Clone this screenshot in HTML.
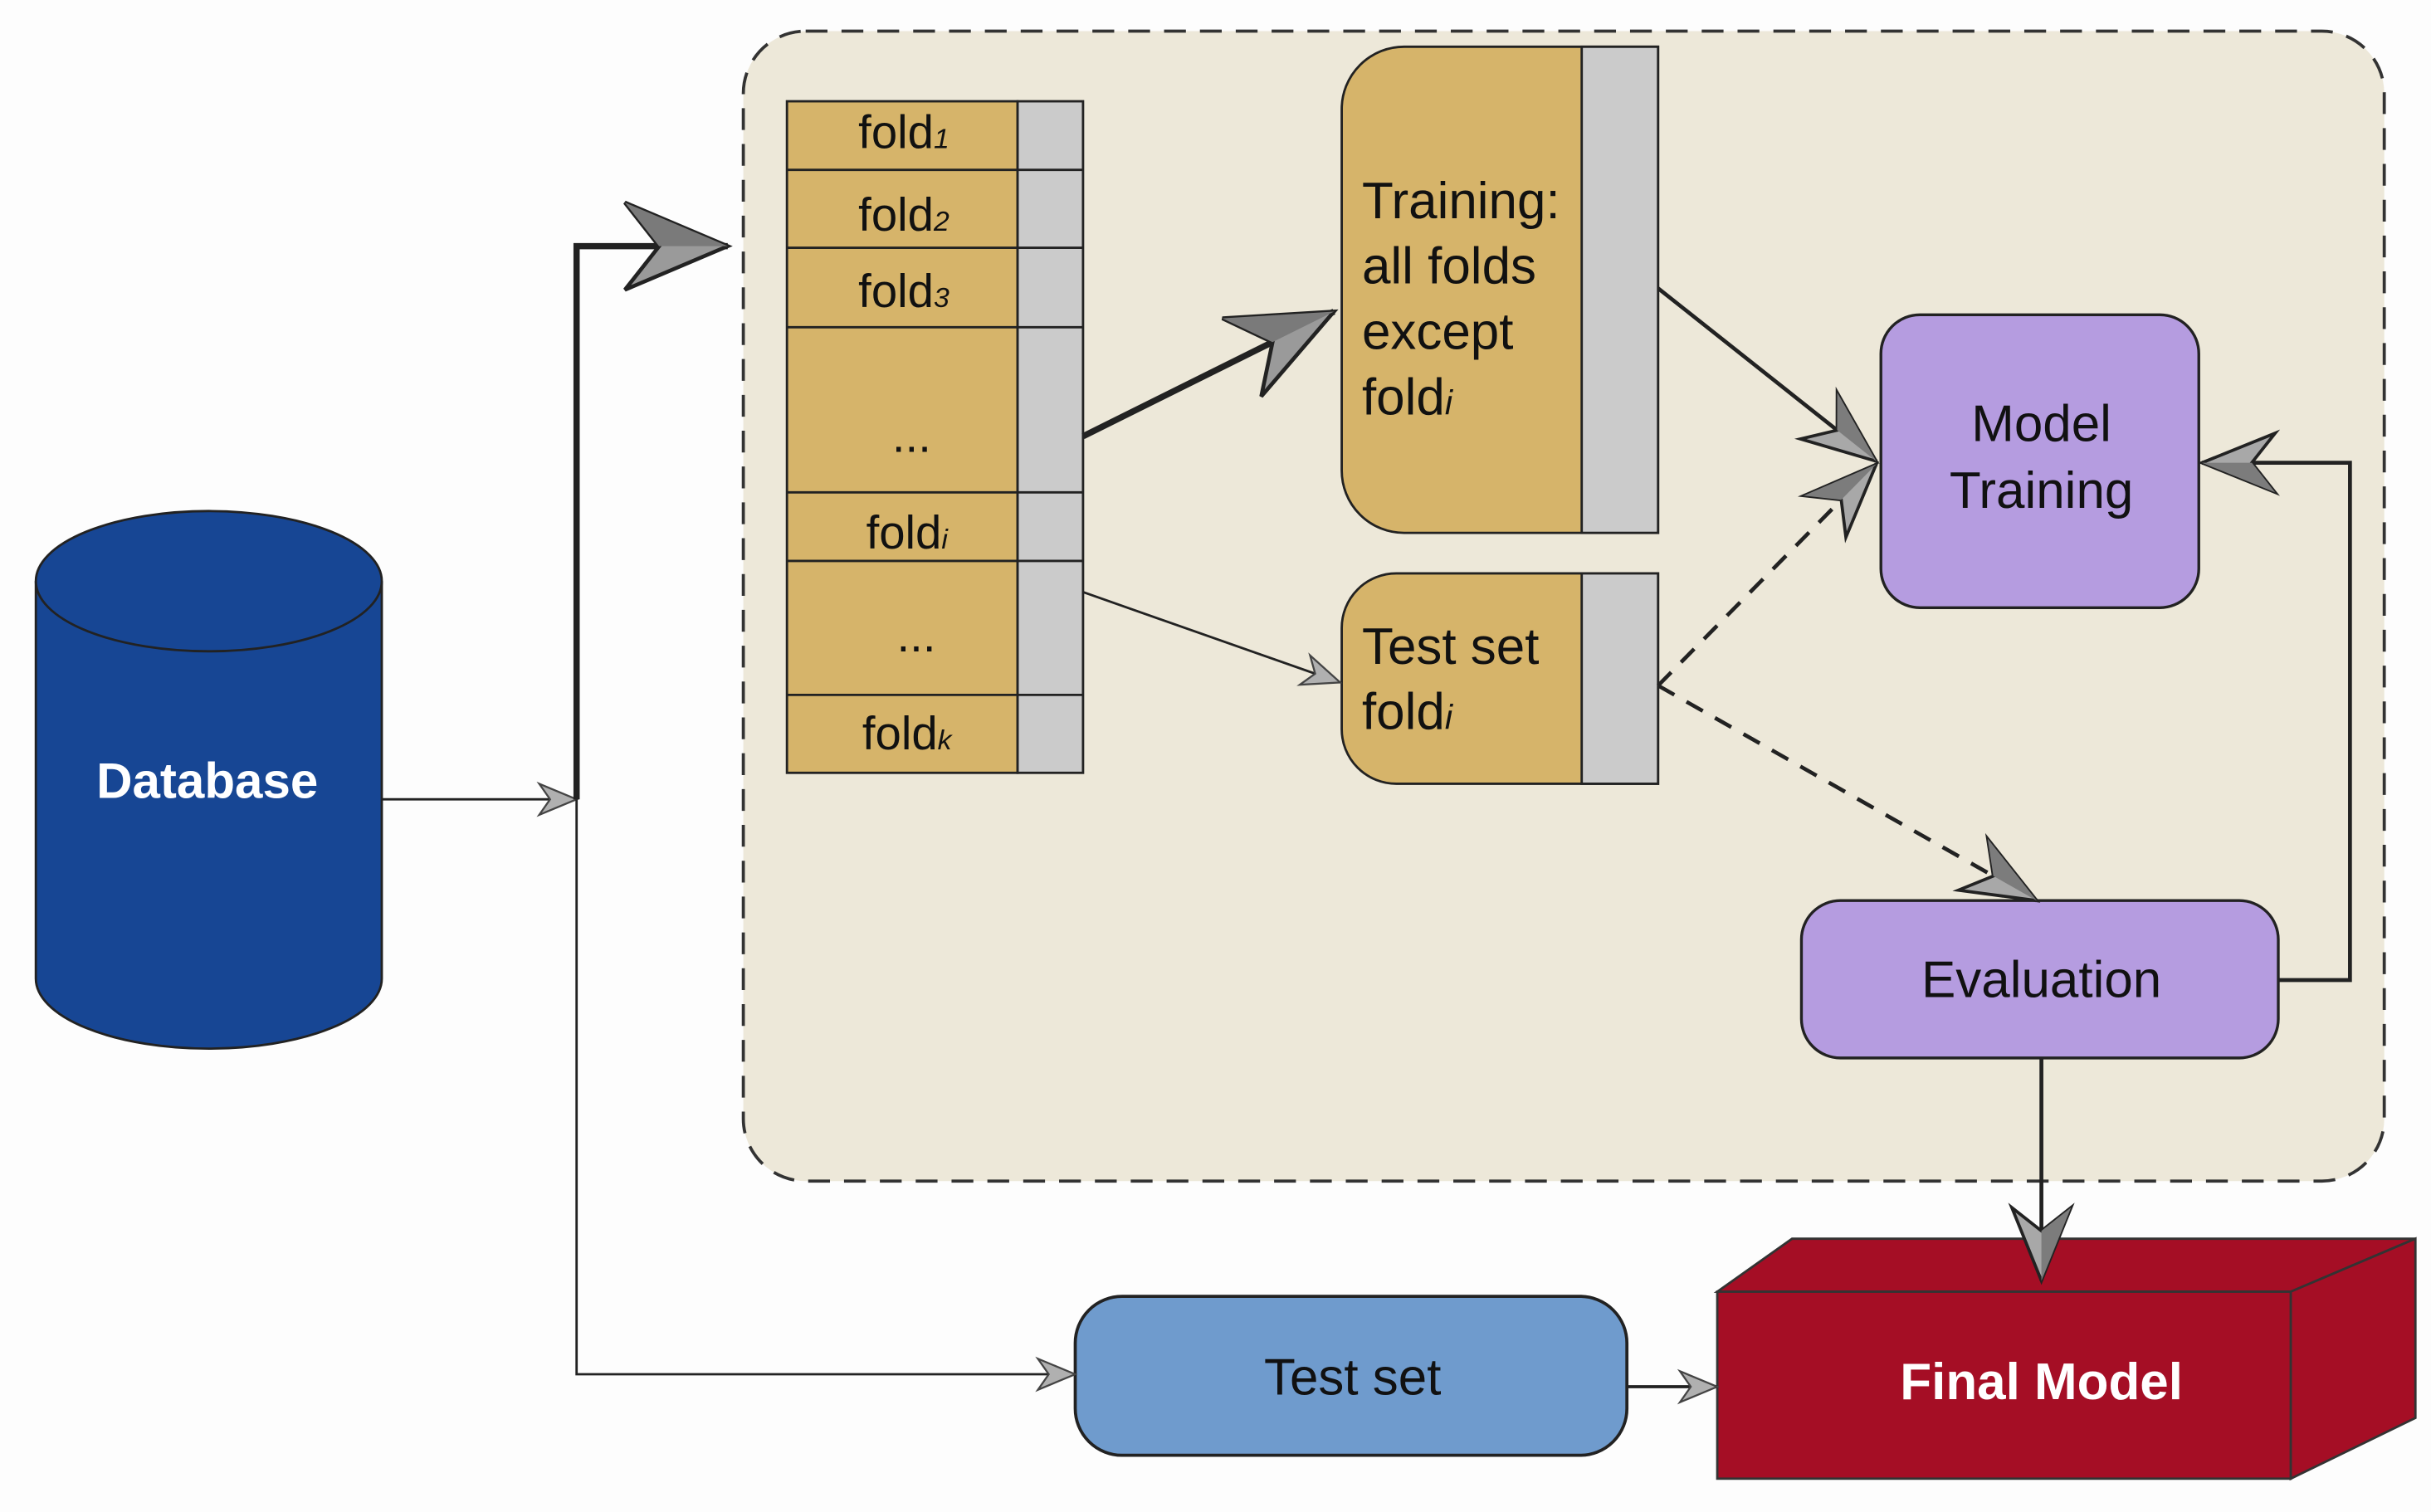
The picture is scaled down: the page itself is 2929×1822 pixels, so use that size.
<!DOCTYPE html>
<html><head><meta charset="utf-8"><style>
html,body{margin:0;padding:0;background:#fdfdfd;}
svg{display:block;}
text{font-family:"Liberation Sans",Arial,sans-serif;}
</style></head><body>
<svg width="2929" height="1822" viewBox="0 0 1560 970.4" preserveAspectRatio="none" xmlns="http://www.w3.org/2000/svg">
<defs>
<marker id="big" markerUnits="userSpaceOnUse" markerWidth="80" markerHeight="70" refX="70" refY="32" orient="auto" viewBox="0 0 80 70">
<path d="M70,32 L4,4 L26,32 L4,60 Z" fill="#9a9a9a" stroke="#222" stroke-width="2.5"/>
<path d="M70,32 L4,4 L26,32 Z" fill="#7a7a7a"/>
</marker>
<marker id="med" markerUnits="userSpaceOnUse" markerWidth="60" markerHeight="50" refX="50" refY="22" orient="auto" viewBox="0 0 60 50">
<path d="M50,22 L3,3 L18,22 L3,41 Z" fill="#a8a8a8" stroke="#222" stroke-width="2"/>
<path d="M50,22 L3,3 L18,22 Z" fill="#7c7c7c"/>
</marker>
<marker id="sm" markerUnits="userSpaceOnUse" markerWidth="30" markerHeight="26" refX="26" refY="12" orient="auto" viewBox="0 0 30 26">
<path d="M26,12 L2,2 L9,12 L2,22 Z" fill="#b0b0b0" stroke="#444" stroke-width="1.2"/>
</marker>
</defs>
<rect x="0" y="0" width="1560" height="971" fill="#fdfdfd"/>
<!-- container -->
<rect x="477" y="20" width="1053" height="738" rx="40" fill="#ede8d9" stroke="#333" stroke-width="2" stroke-dasharray="14,9"/>
<!-- database -->
<path d="M23,373 L23,628 A111,45 0 0 0 245,628 L245,373" fill="#174694" stroke="#222" stroke-width="1.5"/>
<ellipse cx="134" cy="373" rx="111" ry="45" fill="#174694" stroke="#222" stroke-width="1.5"/>
<text x="133" y="512" font-size="32" font-weight="bold" fill="#fff" text-anchor="middle">Database</text>
<!-- folds -->
<g stroke="#222" stroke-width="1.5">
<rect x="505" y="65" width="148" height="431" fill="#d6b46a"/>
<rect x="653" y="65" width="42" height="431" fill="#cbcbcb"/>
<line x1="505" y1="109" x2="695" y2="109"/>
<line x1="505" y1="159" x2="695" y2="159"/>
<line x1="505" y1="210" x2="695" y2="210"/>
<line x1="505" y1="316" x2="695" y2="316"/>
<line x1="505" y1="360" x2="695" y2="360"/>
<line x1="505" y1="446" x2="695" y2="446"/>
</g>
<g font-size="30" fill="#111" text-anchor="middle">
<text x="580" y="95">fold<tspan font-size="18" font-style="italic">1</tspan></text>
<text x="580" y="148">fold<tspan font-size="18" font-style="italic">2</tspan></text>
<text x="580" y="197">fold<tspan font-size="18" font-style="italic">3</tspan></text>
<text x="585" y="290">...</text>
<text x="582" y="352">fold<tspan font-size="18" font-style="italic">i</tspan></text>
<text x="588" y="418">...</text>
<text x="582" y="481">fold<tspan font-size="18" font-style="italic">k</tspan></text>
</g>
<!-- training box -->
<path d="M901,30 L1064,30 L1064,342 L901,342 A40,40 0 0 1 861,302 L861,70 A40,40 0 0 1 901,30 Z" fill="#d6b46a" stroke="#222" stroke-width="1.5"/>
<rect x="1015" y="30" width="49" height="312" fill="#cbcbcb" stroke="#222" stroke-width="1.5"/>
<g font-size="33" fill="#111">
<text x="874" y="140">Training:</text>
<text x="874" y="182">all folds</text>
<text x="874" y="224">except</text>
<text x="874" y="266">fold<tspan font-size="22" font-style="italic">i</tspan></text>
</g>
<!-- test set fold -->
<path d="M896,368 L1064,368 L1064,503 L896,503 A35,35 0 0 1 861,468 L861,403 A35,35 0 0 1 896,368 Z" fill="#d6b46a" stroke="#222" stroke-width="1.5"/>
<rect x="1015" y="368" width="49" height="135" fill="#cbcbcb" stroke="#222" stroke-width="1.5"/>
<g font-size="33" fill="#111">
<text x="874" y="426">Test set</text>
<text x="874" y="468">fold<tspan font-size="22" font-style="italic">i</tspan></text>
</g>
<!-- model training -->
<rect x="1207" y="202" width="204" height="188" rx="25" fill="#b59ce0" stroke="#222" stroke-width="1.8"/>
<text x="1310" y="283" font-size="33" fill="#111" text-anchor="middle">Model</text>
<text x="1310" y="326" font-size="33" fill="#111" text-anchor="middle">Training</text>
<!-- evaluation -->
<rect x="1156" y="578" width="306" height="101" rx="25" fill="#b59ce0" stroke="#222" stroke-width="1.8"/>
<text x="1310" y="640" font-size="33" fill="#111" text-anchor="middle">Evaluation</text>
<!-- test set bottom -->
<rect x="690" y="832" width="354" height="102" rx="30" fill="#6f9bcd" stroke="#222" stroke-width="2"/>
<text x="868" y="895" font-size="33" fill="#111" text-anchor="middle">Test set</text>
<!-- final model -->
<g stroke="#333" stroke-width="1.5" fill="#a50e25">
<polygon points="1102,829 1150,795 1550,795 1470,829"/>
<polygon points="1470,829 1550,795 1550,910 1470,949"/>
<rect x="1102" y="829" width="368" height="120"/>
</g>
<text x="1310" y="898" font-size="33" font-weight="bold" fill="#fff" text-anchor="middle">Final Model</text>
<!-- connectors -->
<g fill="none" stroke="#222">
<line x1="245" y1="513" x2="370" y2="513" stroke-width="1.5" marker-end="url(#sm)"/>
<polyline points="370,513 370,158 467,158" stroke-width="4" marker-end="url(#big)"/>
<polyline points="370,513 370,882 690,882" stroke-width="1.5" marker-end="url(#sm)"/>
<line x1="695" y1="280" x2="856" y2="200" stroke-width="4" marker-end="url(#big)"/>
<line x1="695" y1="380" x2="860" y2="438" stroke-width="1.5" marker-end="url(#sm)"/>
<line x1="1064" y1="185" x2="1204" y2="296" stroke-width="2.5" marker-end="url(#med)"/>
<line x1="1064" y1="440" x2="1204" y2="298" stroke-width="2.5" stroke-dasharray="12,9" marker-end="url(#med)"/>
<line x1="1064" y1="440" x2="1307" y2="578" stroke-width="2.5" stroke-dasharray="12,9" marker-end="url(#med)"/>
<polyline points="1462,629 1508,629 1508,297 1413,297" stroke-width="2.5" marker-end="url(#med)"/>
<line x1="1310" y1="679" x2="1310" y2="822" stroke-width="2.5" marker-end="url(#med)"/>
<line x1="1044" y1="890" x2="1102" y2="890" stroke-width="2" marker-end="url(#sm)"/>
</g>
</svg>
</body></html>
